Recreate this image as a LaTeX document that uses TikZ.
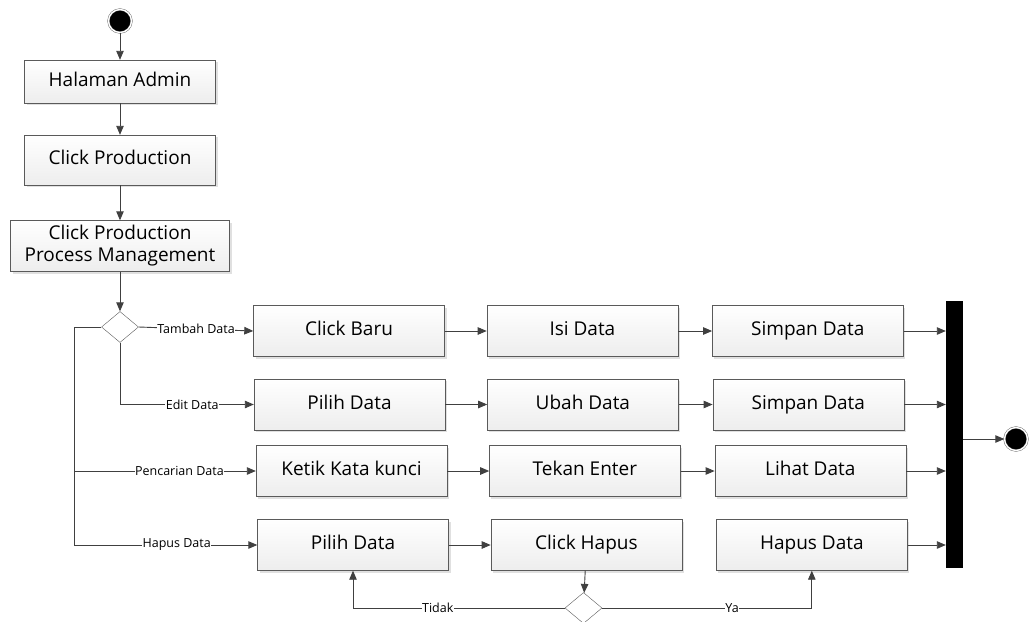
\documentclass[tikz,border=0pt]{standalone}
\usepackage{fontspec}
\setmainfont{Open Sans}
\usetikzlibrary{shapes.geometric,arrows.meta,positioning,shadows}
\definecolor{lineC}{HTML}{404040}
\definecolor{edgeC}{HTML}{5A5A5A}
\tikzset{
  act/.style={rectangle, draw=edgeC, top color=white, bottom color=gray!14, minimum width=191pt, minimum height=51pt, align=center, font=\fontsize{19}{22}\selectfont, inner sep=2pt, execute at begin node=\vphantom{Ag}, drop shadow={shadow xshift=2pt, shadow yshift=-2pt, fill=gray!40, opacity=0.6}},
  dec/.style={diamond, draw=edgeC, fill=white, minimum width=37pt, minimum height=31pt, inner sep=0pt},
  startnode/.style={circle, fill=black, draw=edgeC, double=white, double distance=1.4pt, minimum size=23pt, inner sep=0pt},
  joinbar/.style={rectangle, fill=black, minimum width=17pt, minimum height=267pt, inner sep=0pt},
  arr/.style={-{Triangle[length=9pt,width=7.5pt]}, draw=lineC, line width=0.9pt},
  lbl/.style={fill=white, inner sep=0.5pt, font=\fontsize{12.5}{13}\selectfont}
}
\begin{document}
\begin{tikzpicture}[x=1pt, y=-1pt, node distance=42pt]
\useasboundingbox (0,0) rectangle (1030,621);
\node[startnode] (start) at (120,21) {};
\node[act, minimum height=43pt] (admin) at (120,81.5) {Halaman Admin};
\node[act, minimum height=50pt] (prod) at (120,160) {Click Production};
\node[act, minimum width=219pt] (ppm) at (120,246) {Click Production\\Process Management};
\node[dec] (pilih) at (120,327) {};

% baris tambah
\node[act] (baru) at (349,331) {Click Baru};
\node[act, right=of baru] (isi) {Isi Data};
\node[act, right=34pt of isi] (simpan1) {Simpan Data};
% baris edit
\node[act] (pilih1) at (349.5,404.5) {Pilih Data};
\node[act, right=of pilih1] (ubah) {Ubah Data};
\node[act, right=34pt of ubah] (simpan2) {Simpan Data};
% baris pencarian
\node[act] (ketik) at (351.5,471) {Ketik Kata kunci};
\node[act, right=of ketik] (enter) {Tekan Enter};
\node[act, right=34pt of enter] (lihat) {Lihat Data};
% baris hapus
\node[act] (pilih2) at (353,545) {Pilih Data};
\node[act, right=of pilih2] (hapus) {Click Hapus};
\node[act, right=34pt of hapus] (hapusdata) {Hapus Data};
\node[dec] (konfirm) at (583.5,608) {};

\node[joinbar] (bar) at (954.5,434.5) {};
\node[startnode] (end) at (1016,439) {};
\coordinate (loop) at (74,327);

\draw[arr] (start) -- (admin); \draw[arr] (admin) -- (prod); \draw[arr] (prod) -- (ppm);
\draw[arr] (ppm) -- (pilih);
\draw[arr] (pilih.east) -- node[lbl] {Tambah Data} (baru.west);
\draw[arr] (pilih.south) |- node[lbl, pos=0.77] {Edit Data} (pilih1.west);
\draw[draw=lineC, line width=0.9pt] (pilih.west) -- (loop);
\draw[arr] (loop) |- node[lbl, pos=0.79] {Pencarian Data} (ketik.west);
\draw[arr] (loop) |- node[lbl, pos=0.78] {Hapus Data} (pilih2.west);

\draw[arr] (baru) -- (isi); \draw[arr] (isi) -- (simpan1);
\draw[arr] (pilih1) -- (ubah); \draw[arr] (ubah) -- (simpan2);
\draw[arr] (ketik) -- (enter); \draw[arr] (enter) -- (lihat);
\draw[arr] (pilih2) -- (hapus);
\draw[arr] (hapus) -- (konfirm);
\draw[arr] (konfirm.west) -| node[lbl, pos=0.3] {Tidak} (pilih2.south);
\draw[arr] (konfirm.east) -| node[lbl, pos=0.31] {Ya} (hapusdata.south);

\foreach \n in {simpan1,simpan2,lihat,hapusdata}
  \draw[arr] (\n.east) -- (\n.east -| bar.west);
\draw[arr] (bar.east |- end.west) -- (end.west);
\end{tikzpicture}
\end{document}
